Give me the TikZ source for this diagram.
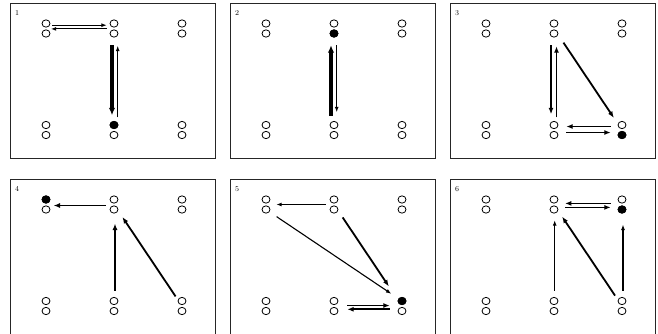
\documentclass[tikz,border=0pt]{standalone}
\usepackage{tikz}
\usetikzlibrary{arrows.meta, shapes.geometric}

\begin{document}
\begin{tikzpicture}[
  x=1pt, y=-1pt,
  panel/.style={draw=black!85, line width=0.9pt},
  tag/.style={font=\fontsize{7.5}{8}\selectfont, inner sep=0pt},
  site/.style={rectangle, minimum width=8pt, minimum height=19pt, inner sep=0pt},
  ring/.style={ellipse, draw, line width=0.8pt, minimum width=8pt, minimum height=7.3pt, inner sep=0pt},
  lite/.style={line width=1.1pt, -{Latex[length=5.5pt, width=4pt]}},
  mid/.style={line width=1.8pt, -{Latex[length=6.5pt, width=5pt]}},
  heavy/.style={line width=3.4pt, -{Latex[length=7.5pt, width=6.5pt]}}
]
\useasboundingbox (0,0) rectangle (658,333);

%% --- Panels, sites and their two rings ---
\foreach \n/\X/\Y/\on in {1/10/3.5/b2-u, 2/230/3.5/b1-l, 3/450/3.5/c2-l,
                          4/10/179.5/a1-u, 5/230/179.5/c2-u, 6/450/179.5/c1-l} {
  \draw[panel] (\X,\Y) rectangle ++(205,155);
  \node[tag] (tag\n) at (\X+7,\Y+9.5) {\n};
  \foreach \c/\dx in {a/36, b/104, c/172}
    \foreach \r/\dy in {1/25, 2/126.5} {
      \node[site] (p\n-\c\r) at (\X+\dx,\Y+\dy) {};
      \node[ring] (p\n-\c\r-u) at ([yshift=5pt]p\n-\c\r.center) {};
      \node[ring] (p\n-\c\r-l) at ([yshift=-5pt]p\n-\c\r.center) {};
    }
  \node[ring, fill=black] (on\n) at (p\n-\on) {};
}

%% --- 1 ---
\draw[lite, shorten <=2pt, shorten >=3pt] ([yshift=3.3pt]p1-a1.east) -- ([yshift=3.3pt]p1-b1.west);
\draw[lite, shorten <=3pt, shorten >=0.5pt] ([yshift=-0.4pt]p1-b1.west) -- ([yshift=-0.4pt]p1-a1.east);
\draw[heavy, shorten <=7pt, shorten >=5pt] ([xshift=-2pt]p1-b1.south) -- ([xshift=-2pt]p1-b2.north);
\draw[lite, shorten <=3pt, shorten >=7.5pt] ([xshift=3.7pt]p1-b2.north) -- ([xshift=3.7pt]p1-b1.south);

%% --- 2 ---
\draw[heavy, shorten <=4.5pt, shorten >=7pt] ([xshift=-3pt]p2-b2.north) -- ([xshift=-3pt]p2-b1.south);
\draw[lite, shorten <=7pt, shorten >=8pt] ([xshift=2.7pt]p2-b1.south) -- ([xshift=2.7pt]p2-b2.north);

%% --- 3 ---
\draw[mid, shorten <=7pt, shorten >=6pt] ([xshift=-3pt]p3-b1.south) -- ([xshift=-3pt]p3-b2.north);
\draw[mid, shorten <=3pt, shorten >=8pt] ([xshift=2.5pt]p3-b2.north) -- ([xshift=2.5pt]p3-b1.south);
\draw[mid, shorten <=9.5pt, shorten >=7pt] (p3-b1) -- (p3-c2);
\draw[mid, shorten <=7pt, shorten >=8pt] ([yshift=3.5pt]p3-c2.west) -- ([yshift=3.5pt]p3-b2.east);
\draw[mid, shorten <=8pt, shorten >=7pt] ([yshift=-2.5pt]p3-b2.east) -- ([yshift=-2.5pt]p3-c2.west);

%% --- 4 ---
\draw[mid, shorten <=4pt, shorten >=3.3pt] ([yshift=-1pt]p4-b1.west) -- ([yshift=-1pt]p4-a1.east);
\draw[mid, shorten <=5.5pt, shorten >=9.3pt] ([xshift=1pt]p4-b2.north) -- ([xshift=1pt]p4-b1.south);
\draw[mid, shorten <=4pt, shorten >=7.5pt] (p4-c2) -- (p4-b1);

%% --- 5 ---
\draw[lite, shorten <=4pt, shorten >=6pt] (p5-b1.west) -- (p5-a1.east);
\draw[lite, shorten <=8.5pt, shorten >=8.5pt] (p5-a1-l) -- (p5-c2-u);
\draw[mid, shorten <=8pt, shorten >=16pt] (p5-b1) -- (p5-c2);
\draw[mid, shorten <=9pt, shorten >=8pt] ([yshift=0.5pt]p5-b2.east) -- ([yshift=0.5pt]p5-c2.west);
\draw[mid, shorten <=8pt, shorten >=9pt] ([yshift=-3.3pt]p5-c2.west) -- ([yshift=-3.3pt]p5-b2.east);

%% --- 6 ---
\draw[mid, shorten <=7pt, shorten >=6.7pt] ([yshift=1.1pt]p6-c1.west) -- ([yshift=1.1pt]p6-b1.east);
\draw[mid, shorten <=7pt, shorten >=7pt] ([yshift=-2.9pt]p6-b1.east) -- ([yshift=-2.9pt]p6-c1.west);
\draw[lite, shorten <=5.5pt, shorten >=6pt] ([xshift=0.7pt]p6-b2.north) -- ([xshift=0.7pt]p6-b1.south);
\draw[mid, shorten <=5pt, shorten >=7pt] (p6-c2) -- (p6-b1);
\draw[lite, shorten <=5.5pt, shorten >=10.3pt] ([xshift=1pt]p6-c2.north) -- ([xshift=1pt]p6-c1.south);

\end{tikzpicture}
\end{document}
